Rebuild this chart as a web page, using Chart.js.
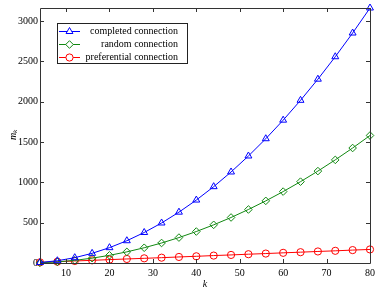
<!DOCTYPE html>
<html>
<head>
<meta charset="utf-8">
<script src="https://cdn.jsdelivr.net/npm/chart.js@4.4.0/dist/chart.umd.min.js"></script>
<style>
html,body{margin:0;padding:0;background:#fff;}
#wrap{width:388px;height:292px;}
</style>
</head>
<body>
<div id="wrap"><canvas id="c" width="388" height="292"></canvas></div>
<script>
const kValues = [4,8,12,16,20,24,28,32,36,40,44,48,52,56,60,64,68,72,76,80];
const completedConnection = [6,28,66,120,190,276,378,496,630,780,946,1128,1326,1540,1770,2016,2278,2556,2850,3160];
const randomConnection = [3,14,33,60,95,138,189,248,315,390,473,564,663,770,885,1008,1139,1278,1425,1580];
const preferentialConnection = [8,16,25,33,42,50,58,66,75,83,92,100,109,117,126,134,143,151,160,168];
const xTickValues = [10,20,30,40,50,60,70,80];
const yTickValues = [0,500,1000,1500,2000,2500,3000];
const seriesLabels = ['completed connection','random connection','preferential connection'];

const SERIF = "'Liberation Serif', serif";
const colors = ['#0000ff','#118811','#ff0000'];
const styles = ['triangle','rectRot','circle'];
const radii = [4,3.8,3.6];

function mk(i, data){
  return {
    label: seriesLabels[i],
    data: kValues.map((k,j)=>({x:k,y:data[j]})),
    borderColor: colors[i],
    backgroundColor: 'rgba(255,255,255,0)',
    borderWidth: 1,
    pointStyle: styles[i],
    pointRadius: radii[i],
    pointBorderWidth: 1,
    pointBackgroundColor: 'rgba(255,255,255,0)',
    pointBorderColor: colors[i],
    tension: 0,
    clip: false
  };
}

const framePlugin = {
  id: 'frame',
  afterDatasetsDraw(chart){
    const ctx = chart.ctx, a = chart.chartArea;
    const xs = chart.scales.x, ys = chart.scales.y;
    ctx.save();
    ctx.strokeStyle = '#333';
    ctx.lineWidth = 1;
    ctx.beginPath();
    ctx.rect(Math.round(a.left)+0.5, Math.round(a.top)+0.5, Math.round(a.right-a.left), Math.round(a.bottom-a.top));
    ctx.stroke();
    ctx.beginPath();
    const L = 4;
    xTickValues.forEach(v=>{
      const px = Math.round(xs.getPixelForValue(v))+0.5;
      ctx.moveTo(px, a.bottom); ctx.lineTo(px, a.bottom-L);
      ctx.moveTo(px, a.top); ctx.lineTo(px, a.top+L);
    });
    yTickValues.forEach(v=>{
      const py = Math.round(ys.getPixelForValue(v))+0.5;
      ctx.moveTo(a.left, py); ctx.lineTo(a.left+L, py);
      ctx.moveTo(a.right, py); ctx.lineTo(a.right-L, py);
    });
    ctx.stroke();

    // axis titles
    ctx.fillStyle = '#000';
    ctx.font = 'italic 10px ' + SERIF;
    ctx.textAlign = 'center';
    ctx.textBaseline = 'middle';
    ctx.fillText('k', (a.left+a.right)/2, 284);
    ctx.save();
    ctx.translate(13, (a.top+a.bottom)/2);
    ctx.rotate(-Math.PI/2);
    ctx.fillText('m', -1, 0);
    ctx.font = 'italic 7px ' + SERIF;
    ctx.fillText('k', 4, 2);
    ctx.restore();

    // legend
    const bx = 57.5, by = 23.5, bw = 130, bh = 40;
    ctx.fillStyle = '#fff';
    ctx.fillRect(bx, by, bw, bh);
    ctx.strokeStyle = '#222';
    ctx.strokeRect(bx, by, bw, bh);
    const rows = [31, 44, 57];
    chart.data.datasets.forEach((ds, i)=>{
      const y = rows[i];
      ctx.strokeStyle = ds.borderColor;
      ctx.lineWidth = 1;
      ctx.beginPath();
      ctx.moveTo(59, y+0.5); ctx.lineTo(80, y+0.5);
      ctx.stroke();
      ctx.fillStyle = '#fff';
      Chart.helpers.drawPoint(ctx, {pointStyle: ds.pointStyle, radius: ds.pointRadius, rotation: 0, borderWidth: 1}, 69.5, y+0.5);
      ctx.fillStyle = '#000';
      ctx.font = '10px ' + SERIF;
      ctx.textAlign = 'right';
      ctx.textBaseline = 'middle';
      ctx.fillText(ds.label, 178, y);
    });
    ctx.restore();
  }
};

new Chart(document.getElementById('c'), {
  type: 'line',
  data: { datasets: [mk(0, completedConnection), mk(1, randomConnection), mk(2, preferentialConnection)] },
  options: {
    responsive: false,
    devicePixelRatio: 1,
    animation: false,
    layout: { padding: { top: 8, right: 18, left: 0, bottom: 0 } },
    plugins: { legend: { display: false }, tooltip: { enabled: false } },
    scales: {
      x: {
        type: 'linear', min: 4, max: 80,
        afterBuildTicks(s){ s.ticks = xTickValues.map(v=>({value:v})); },
        afterFit(s){ s.height = 29; },
        grid: { drawOnChartArea: false, drawTicks: false },
        border: { display: false },
        ticks: { padding: 4, color: '#000', font: { family: SERIF, size: 10 }, maxRotation: 0, autoSkip: false, callback: v => String(v) }
      },
      y: {
        type: 'linear', min: 0, max: 3160,
        afterBuildTicks(s){ s.ticks = yTickValues.map(v=>({value:v})); },
        afterFit(s){ s.width = 40; },
        grid: { drawOnChartArea: false, drawTicks: false },
        border: { display: false },
        ticks: { padding: 2, color: '#000', font: { family: SERIF, size: 10 }, autoSkip: false, callback: v => String(v) }
      }
    }
  },
  plugins: [framePlugin]
});
</script>
</body>
</html>
